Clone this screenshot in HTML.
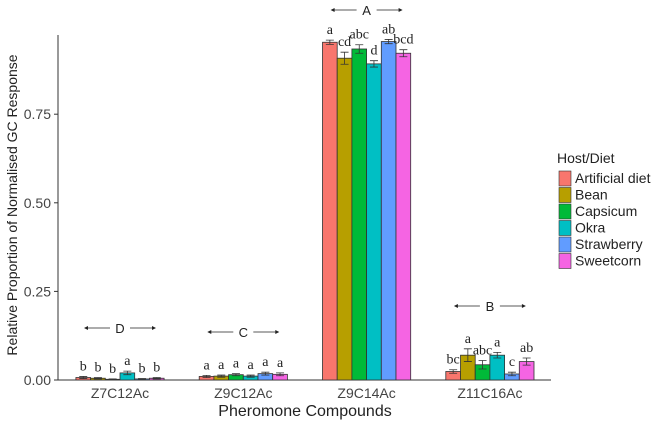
<!DOCTYPE html>
<html><head><meta charset="utf-8"><style>
body{margin:0;background:#fff;}
svg text{font-family:"Liberation Sans",sans-serif;}
.s{font-family:"Liberation Serif",serif !important;font-size:14px;fill:#222;}
</style></head><body>
<svg id="c" width="662" height="423" viewBox="0 0 662 423"></svg>
<script>
const categories=["Z7C12Ac","Z9C12Ac","Z9C14Ac","Z11C16Ac"];
const series=["Artificial diet","Bean","Capsicum","Okra","Strawberry","Sweetcorn"];
const colors=["#f8766d","#b79f00","#00ba38","#00bfc4","#619cff","#f564e3"];
const vZ7=[0.007,0.005,0.002,0.020,0.003,0.005];
const vZ9=[0.010,0.011,0.015,0.011,0.018,0.016];
const vZ914=[0.953,0.908,0.934,0.892,0.955,0.922];
const vZ11=[0.024,0.070,0.043,0.070,0.017,0.052];
const errs=[[0.003,0.002,0.001,0.005,0.001,0.002],[0.003,0.003,0.003,0.003,0.004,0.004],[0.006,0.017,0.012,0.009,0.006,0.010],[0.005,0.018,0.012,0.008,0.005,0.010]];
const letters=[["b","b","b","a","b","b"],["a","a","a","a","a","a"],["a","cd","abc","d","ab","bcd"],["bc","a","abc","a","c","ab"]];
const groupLetters=["D","C","A","B"];
const groupLetterY=[318,322,0,296];
const yTicks=[0,0.25,0.5,0.75];
const values=[vZ7,vZ9,vZ914,vZ11];
const svg=document.getElementById('c');const NS="http://www.w3.org/2000/svg";
function el(t,a,txt){const e=document.createElementNS(NS,t);for(const k in a)e.setAttribute(k,a[k]);if(txt!=null)e.textContent=txt;svg.appendChild(e);return e;}
const y=v=>380-354.4*v;
const x0=58,gap=123.3,first=120,bw=14.7;
const xc=i=>first+i*gap;
let e;
e=el('line',{x1:x0,y1:35,x2:x0,y2:380,stroke:'#333','stroke-width':1});


e=el('line',{x1:x0,y1:380,x2:551,y2:380,stroke:'#333','stroke-width':1});


yTicks.forEach(t=>{e=el('text',{x:x0-7,y:y(t)+5,'text-anchor':'end','font-size':14,fill:'#444'},t.toFixed(2));


el('line',{x1:x0-4,y1:y(t),x2:x0,y2:y(t),stroke:'#333'});});
categories.forEach((c,i)=>{
 e=el('text',{x:xc(i),y:398,'text-anchor':'middle','font-size':14,fill:'#444'},c);
 
 
 values[i].forEach((v,j)=>{
  const bx=xc(i)-3*bw+j*bw;
  e=el('rect',{x:bx,y:y(v),width:bw,height:380-y(v),fill:colors[j],stroke:'#333','stroke-width':0.8});
  
  
  const cx=bx+bw/2,er=errs[i][j];
  el('path',{d:`M${cx-4},${y(v+er)}H${cx+4}M${cx},${y(v+er)}V${y(v-er)}M${cx-4},${y(v-er)}H${cx+4}`,stroke:'#333','stroke-width':0.8,fill:'none'});
  e=el('text',{x:cx,y:y(v+er)-6,'text-anchor':'middle',class:'s'},letters[i][j]);
  
  
 });
 const gy=groupLetterY[i]+10;
 e=el('text',{x:xc(i),y:gy+5,'text-anchor':'middle','font-size':13,fill:'#222'},groupLetters[i]);
 
 
 el('path',{d:`M${xc(i)-34},${gy}H${xc(i)-10}M${xc(i)+10},${gy}H${xc(i)+34}`,stroke:'#222','stroke-width':0.8});
 el('path',{d:`M${xc(i)-36},${gy}l4,-2v4zM${xc(i)+36},${gy}l-4,-2v4z`,fill:'#222'});
});
e=el('text',{x:305,y:416,'text-anchor':'middle','font-size':16,fill:'#222'},'Pheromone Compounds');


e=el('text',{x:0,y:0,'text-anchor':'middle','font-size':14,fill:'#222',transform:'translate(17,205) rotate(-90)'},'Relative Proportion of Normalised GC Response');


e=el('text',{x:557,y:163,'font-size':14,fill:'#222'},'Host/Diet');


series.forEach((s,j)=>{
 const ly=171+j*16.5;
 e=el('rect',{x:559,y:ly,width:12,height:15,fill:colors[j],stroke:'#333','stroke-width':0.6});
 
 
 e=el('text',{x:575,y:ly+12,'font-size':14,fill:'#222'},s);
 
 
});
</script>
</body></html>
